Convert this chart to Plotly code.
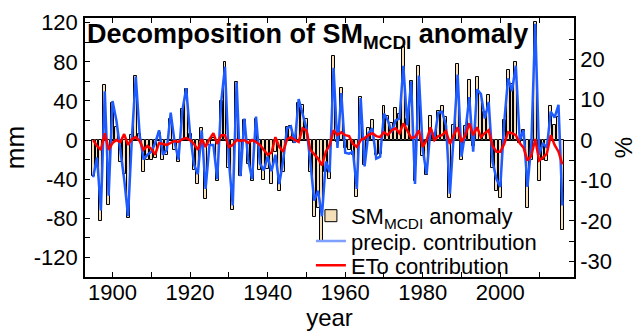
import plotly.graph_objects as go

years = list(range(1895, 2017))

sm_anomaly = [
    -37, -22, -83, 56, -66,
    38, 13, -22, -35, -80, 5, 66, 6, -33, -20,
    -20, -18, 7, -20, -15, 22, -10, -22, 32, 52,
    6, -31, -45, 12, -60, -5, 2, -42, 40, 80,
    -29, -72, 59, -37, 20, -25, -42, 22, -31, -41,
    -30, -45, -12, -52, -33, 13, 14, -3, 38, 36,
    22, -33, -79, -70, -104, -33, -40, 86, -2, 53,
    -8, -10, -15, -58, 44, -26, 12, 20, -15, -14,
    35, 25, 17, 33, 27, 95, 22, 60, -42, 76,
    -16, -36, 25, 3, 30, 35, 24, -59, 15, 78,
    -20, 14, 61, -6, 65, 47, 29, 46, -29, -52,
    -59, 20, 72, 57, 80, -3, 10, -70, -20, 121,
    -42, -20, -21, 35, 15, 24, -92,
]

precip_contrib = [
    -38, -18, -72, 50, -57,
    40, 20, -10, -40, -78, 3, 65, 5, -20, -15,
    -12, -3, 10, -15, -10, 28, -2, -20, 30, 53,
    6, -25, -35, 10, -50, -5, -5, -40, 38, 75,
    -22, -67, 59, -37, 22, -21, -40, 24, -24, -31,
    -17, -32, -15, -45, -21, 12, 14, -3, 42, 28,
    12, -22, -62, -52, -78, -22, -33, 74, -8, 48,
    -13, -14, -12, -50, 43, -27, 7, 12, -19, -17,
    27, 20, 8, 20, 22, 76, 15, 60, -45, 66,
    -10, -35, 12, 2, 28, 29, 15, -55, 10, 67,
    -17, 9, 44, -12, 52, 47, 22, 39, -22, -40,
    -48, 18, 63, 50, 76, 0, 10, -48, -4, 119,
    -15, -3, -8, 29, 23, 36, -67,
]

eto_contrib = [
    0, -6, -10, 7, -10,
    -3, 0, -2, 6, -5, 1, 3, -1, -10, -6,
    -9, -15, -3, -4, -5, -3, -1, -2, 1, 2,
    0, -4, -10, 1, -7, 1, 7, -4, 5, 5,
    -7, -5, 0, -1, 0, -3, 0, -2, -5, -10,
    -15, -13, 3, -7, -12, 1, 3, 0, -2, 12,
    10, -10, -14, -19, -26, -12, -5, 10, 5, 8,
    5, 4, -4, -7, 0, 2, 5, 7, 4, 3,
    8, 5, 10, 12, 7, 17, 10, 2, 3, 10,
    -7, 0, 13, 0, 4, 5, 9, -4, 5, 13,
    -2, 5, 17, 5, 13, 3, 7, 10, -6, -12,
    -12, -4, 8, 7, 5, -3, -8, -21, -16, 1,
    -21, -18, -14, 5, -5, -12, -25,
]

mm_ticks = [-120, -80, -40, 0, 40, 80, 120]
pct_ticks = [-30, -20, -10, 0, 10, 20]

names = ["SM<sub>MCDI</sub> anomaly", "precip. contribution", "ETo contribution"]

FONT = "Liberation Sans"
fig = go.Figure()

fig.add_trace(go.Bar(
    x=years, y=sm_anomaly, width=0.75, name=names[0],
    marker=dict(color="#f5dfb9", line=dict(color="black", width=1)),
    legend="legend",
))
fig.add_trace(go.Scatter(
    x=years, y=precip_contrib, mode="lines", name=names[1],
    line=dict(color="#1f5cff", width=2.5), showlegend=False,
))
fig.add_trace(go.Scatter(
    x=years, y=eto_contrib, mode="lines", name=names[2],
    line=dict(color="#ff0000", width=2.5), legend="legend3",
))
# legend proxy for the lighter blue legend swatch
fig.add_trace(go.Scatter(
    x=[None], y=[None], mode="lines", name=names[1],
    line=dict(color="#7f9fff", width=2.5), legend="legend2",
))
# invisible trace to activate the right-hand % axis
fig.add_trace(go.Scatter(
    x=[years[0]], y=[0], yaxis="y2", mode="markers",
    marker=dict(opacity=0), showlegend=False, hoverinfo="skip",
))

leg_common = dict(
    font=dict(family=FONT, size=22, color="black"),
    bgcolor="rgba(0,0,0,0)", borderwidth=0,
    xanchor="left", yanchor="middle", x=0.462, itemwidth=30,
    tracegroupgap=0,
)

fig.update_layout(
    width=641, height=331,
    margin=dict(l=85, r=67, t=18, b=54),
    paper_bgcolor="white", plot_bgcolor="white",
    font=dict(family=FONT, size=22, color="black"),
    bargap=0,
    legend=dict(**leg_common, y=0.236),
    legend2=dict(**leg_common, y=0.138),
    legend3=dict(**leg_common, y=0.045),
    xaxis=dict(
        range=[1892.9, 2019.0], tickmode="linear", tick0=1900, dtick=20,
        ticks="inside", ticklen=5, tickcolor="black", tickwidth=1,
        minor=dict(dtick=10, tick0=1900, ticks="inside", ticklen=5, tickcolor="black"),
        showline=True, linecolor="black", linewidth=1.5, mirror="ticks",
        showgrid=False, zeroline=False, automargin=False,
        tickfont=dict(size=22), ticklabelstandoff=-5,
        title=dict(text="year", font=dict(size=24), standoff=2),
    ),
    yaxis=dict(
        range=[-140.2, 124.9], tickmode="array", tickvals=mm_ticks,
        ticktext=[str(v) for v in mm_ticks],
        ticks="inside", ticklen=5, tickcolor="black", tickwidth=1,
        minor=dict(dtick=20, tick0=0, ticks="inside", ticklen=5, tickcolor="black"),
        showline=True, linecolor="black", linewidth=1.5,
        showgrid=False, zeroline=True, zerolinecolor="black", zerolinewidth=1,
        automargin=False,
        tickfont=dict(size=22), ticklabelstandoff=1,
        title=dict(text="mm", font=dict(size=26), standoff=4),
    ),
    yaxis2=dict(
        overlaying="y", side="right", anchor="x",
        range=[-33.9, 30.2], tickmode="array", tickvals=pct_ticks,
        ticktext=[str(v) for v in pct_ticks],
        ticks="inside", ticklen=5, tickcolor="black", tickwidth=1,
        minor=dict(dtick=5, tick0=0, ticks="inside", ticklen=5, tickcolor="black"),
        showline=True, linecolor="black", linewidth=1.5,
        showgrid=False, zeroline=False, automargin=False,
        tickfont=dict(size=22), ticklabelstandoff=0,
        title=dict(text="%", font=dict(size=24), standoff=4),
    ),
    annotations=[dict(
        text="<b>Decomposition of SM<sub>MCDI</sub> anomaly</b>",
        xref="paper", yref="paper", x=0, y=1, xanchor="left", yanchor="top",
        xshift=0, yshift=1, showarrow=False,
        font=dict(family=FONT, size=27, color="black"),
    )],
)

fig.write_html("out.html")
